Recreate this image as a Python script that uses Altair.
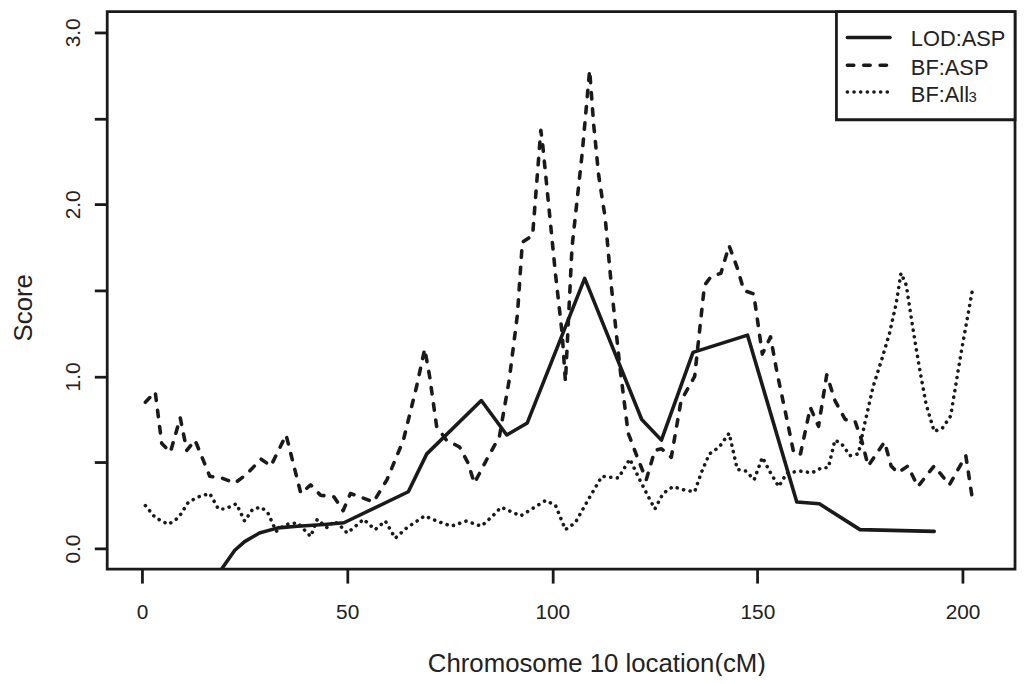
import altair as alt
import pandas as pd

# ---------------- data ----------------
lod_x = [17, 22.6, 25.0, 28.6, 33.1, 37.9, 44.4, 49.2, 64.9, 69.4, 82.7, 88.9, 93.9,
         107.9, 121.8, 126.6, 134.3, 147.6, 159.6, 165.1, 175.0, 193.1]
lod_y = [-0.2, -0.01, 0.04, 0.09, 0.12, 0.13, 0.14, 0.15, 0.33, 0.55, 0.86, 0.66, 0.73,
         1.57, 0.75, 0.63, 1.14, 1.24, 0.27, 0.26, 0.11, 0.10]

bfasp_x = [0.8, 3.2, 4.8, 6.9, 9.3, 10.9, 12.9, 16.5, 19.4, 22.6, 25.4, 29.0, 31.4, 35.1,
           38.7, 41.1, 43.5, 46.8, 49.0, 50.8, 53.2, 56.4, 59.7, 63.7, 66.9, 68.9, 70.1,
           71.8, 74.2, 77.4, 79.4, 81.0, 84.3, 87.1, 89.5, 91.5, 92.7, 95.2, 97.2, 97.6,
           100.8, 102.4, 103.2, 104.8, 107.3, 109.1, 110.1, 111.3, 112.9, 114.5, 116.5,
           118.5, 120.9, 122.9, 125.0, 126.6, 129.0, 131.4, 134.7, 137.1, 138.7, 141.1,
           143.1, 145.1, 146.7, 149.1, 151.2, 153.2, 154.8, 157.2, 158.9, 160.5, 162.9,
           164.9, 166.9, 168.9, 171.4, 173.8, 175.4, 177.0, 179.0, 181.0, 182.6, 184.2,
           186.7, 189.1, 193.1, 196.8, 200.8, 202.4]
bfasp_y = [0.85, 0.91, 0.61, 0.56, 0.76, 0.57, 0.63, 0.42, 0.41, 0.38, 0.43, 0.52, 0.48, 0.66,
           0.32, 0.37, 0.31, 0.30, 0.22, 0.32, 0.30, 0.27, 0.40, 0.63, 0.94, 1.16, 1.00,
           0.71, 0.63, 0.59, 0.50, 0.38, 0.53, 0.65, 0.98, 1.36, 1.78, 1.82, 2.43, 2.36,
           1.59, 1.25, 0.97, 1.75, 2.30, 2.78, 2.46, 2.17, 1.92, 1.50, 1.05,
           0.67, 0.52, 0.40, 0.57, 0.58, 0.53, 0.86, 1.00, 1.53, 1.58, 1.60,
           1.76, 1.63, 1.50, 1.48, 1.13, 1.23, 1.02, 0.75, 0.55, 0.55, 0.82,
           0.71, 1.01, 0.86, 0.75, 0.74, 0.63, 0.48, 0.55, 0.62, 0.48, 0.44,
           0.48, 0.36, 0.48, 0.37, 0.54, 0.29]

bfall_x = [0.8, 3.2, 6.4, 8.9, 11.3, 13.7, 16.5, 18.6, 20.2, 23.0, 25.0, 27.0, 29.0, 30.6,
           32.7, 35.0, 37.9, 41.1, 42.7, 45.2, 46.8, 48.4, 50.0, 54.0, 56.8, 59.3, 61.7,
           64.5, 68.9, 71.8, 75.4, 79.0, 82.7, 85.5, 87.5, 92.3, 98.4, 100.8, 103.2, 105.6,
           108.9, 112.1, 116.1, 118.9, 120.9, 123.0, 125.0, 127.0, 129.4, 132.2, 134.7,
           136.3, 138.3, 140.7, 143.1, 145.1, 147.2, 149.2, 151.2, 153.2, 155.2, 157.2,
           160.5, 163.3, 165.7, 167.3, 168.9, 170.5, 172.6, 174.6, 176.2, 178.2, 180.2,
           182.2, 183.8, 185.0, 186.3, 187.9, 189.5, 191.1, 193.1, 195.1, 197.1, 199.6, 202.4]
bfall_y = [0.25, 0.18, 0.14, 0.18, 0.27, 0.30, 0.32, 0.23, 0.23, 0.26, 0.16, 0.23, 0.24, 0.21,
           0.10, 0.14, 0.15, 0.07, 0.17, 0.12, 0.16, 0.13, 0.09, 0.17, 0.11, 0.16, 0.06,
           0.12, 0.19, 0.16, 0.13, 0.16, 0.13, 0.19, 0.24, 0.19, 0.28, 0.25, 0.11, 0.15,
           0.29, 0.42, 0.41, 0.52, 0.42, 0.32, 0.23, 0.32, 0.36, 0.34, 0.33,
           0.44, 0.55, 0.59, 0.67, 0.46, 0.45, 0.40, 0.53, 0.44, 0.36, 0.44,
           0.45, 0.44, 0.47, 0.47, 0.63, 0.61, 0.54, 0.55, 0.73, 0.94, 1.09,
           1.25, 1.42, 1.60, 1.53, 1.28, 1.05, 0.84, 0.68, 0.70, 0.77, 1.13, 1.50]

x_ticks = [0, 50, 100, 150, 200]
y_ticks = [0, 0.5, 1.0, 1.5, 2.0, 2.5, 3.0]
series_names = ["LOD:ASP", "BF:ASP", "BF:All"]

# ---------------- chart ----------------
FONT = "Liberation Sans, Arial, Helvetica, sans-serif"
INK = "#1a1a1a"
TXT = "#222222"
W, H = 915, 562
LW = 3.6

xs = alt.Scale(domain=[-8.5, 212.8], nice=False, zero=False)
ys = alt.Scale(domain=[-0.12, 3.12], nice=False, zero=False)

xax = alt.Axis(values=x_ticks, title="Chromosome 10 location(cM)", labelBaseline="alphabetic",
               labelPadding=36, tickSize=14, titleX=493, titleY=103,
               titleBaseline="alphabetic", titleAlign="center", titleAnchor="start")
yax = alt.Axis(values=y_ticks, title="Score", tickSize=13, labelAngle=270,
               labelAlign="center", labelBaseline="alphabetic", labelPadding=15,
               labelExpr="datum.value % 1 == 0 ? format(datum.value, '.1f') : ''",
               titleX=-76, titleY=298, titleAngle=270, titleBaseline="alphabetic",
               titleAlign="center", titleAnchor="start")


def line_layer(xv, yv, dash):
    df = pd.DataFrame({"x": xv, "y": yv})
    props = dict(color=INK, strokeWidth=LW, strokeCap="round", strokeJoin="round", clip=True)
    if dash:
        props["strokeDash"] = dash
    return alt.Chart(df).mark_line(**props).encode(
        x=alt.X("x:Q", scale=xs, axis=xax),
        y=alt.Y("y:Q", scale=ys, axis=yax))


lod = line_layer(lod_x, lod_y, None)
bfasp = line_layer(bfasp_x, bfasp_y, [6.5, 10])
bfall = line_layer(bfall_x, bfall_y, [0.1, 6.6])

one = pd.DataFrame({"k": [0]})
leg_box = alt.Chart(one).mark_rect(fill="white", stroke=INK, strokeWidth=2.8).encode(
    x=alt.value(735), x2=alt.value(W), y=alt.value(0), y2=alt.value(109))


def leg_line(yp, dash):
    props = dict(color=INK, strokeWidth=LW, strokeCap="round")
    if dash:
        props["strokeDash"] = dash
    return alt.Chart(one).mark_rule(**props).encode(
        x=alt.value(746), x2=alt.value(789), y=alt.value(yp))


def leg_text(txt, xp, yp, size):
    return alt.Chart(pd.DataFrame({"t": [txt]})).mark_text(
        font=FONT, fontSize=size, color=TXT, align="left", baseline="alphabetic").encode(
        text="t:N", x=alt.value(xp), y=alt.value(yp))


legend = [leg_box,
          leg_line(26, None), leg_line(54, [6.5, 10]), leg_line(81, [0.1, 6.6]),
          leg_text(series_names[0], 810, 35, 22),
          leg_text(series_names[1], 810, 64, 22),
          leg_text(series_names[2], 810, 91, 22),
          leg_text("3", 868, 91, 15)]

chart = alt.layer(lod, bfasp, bfall, *legend).properties(
    width=W, height=H,
    autosize=alt.AutoSizeParams(type="none"),
    padding={"left": 100, "top": 1, "right": 3, "bottom": 105},
    background="white",
).configure_view(stroke=INK, strokeWidth=2.8).configure_axis(
    domain=False, grid=False, tickColor=INK, tickWidth=2.8,
    labelFont=FONT, labelFontSize=21, labelColor=TXT,
    titleFont=FONT, titleFontSize=26, titleFontWeight="normal", titleColor=TXT,
)

chart.save("out.html", embed_options={"renderer": "svg", "actions": False})
